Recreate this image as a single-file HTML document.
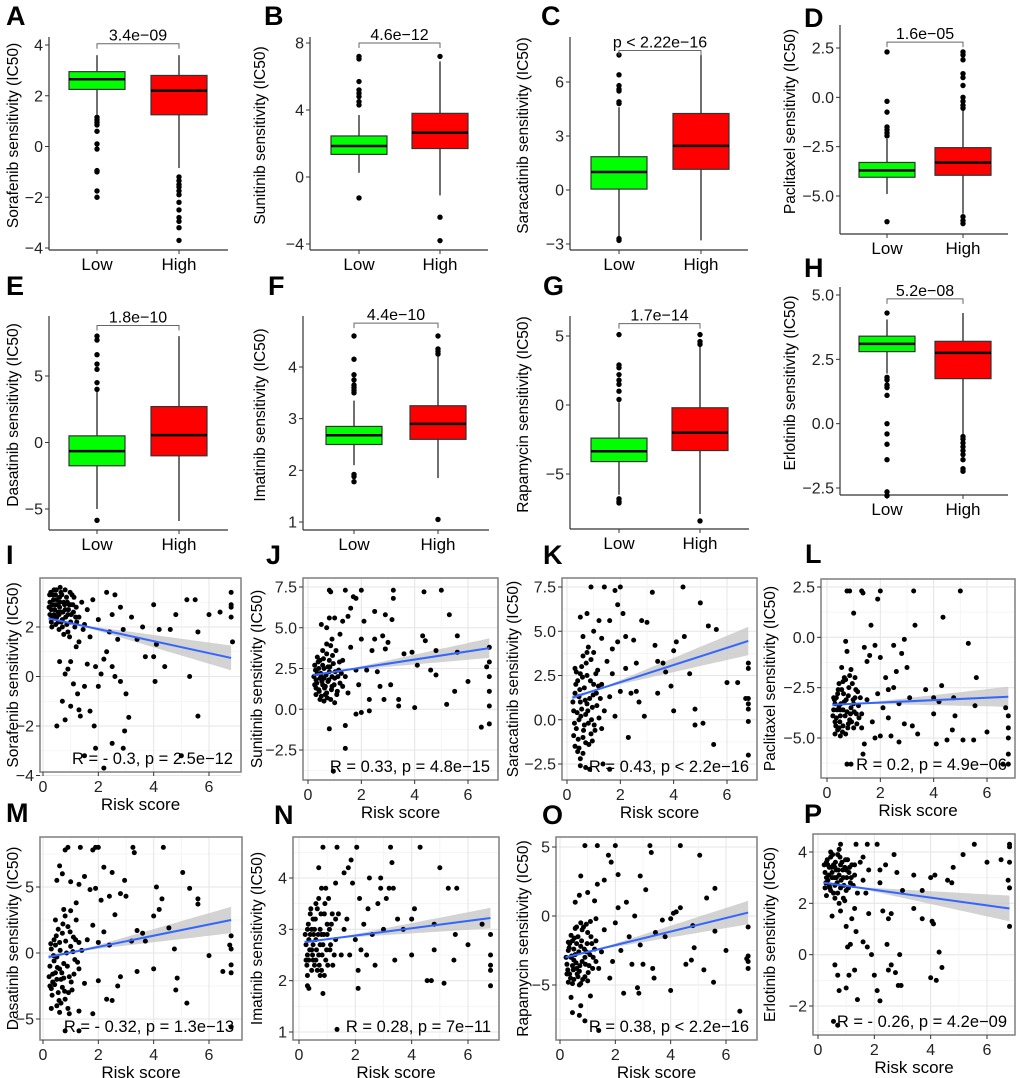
<!DOCTYPE html>
<html><head><meta charset="utf-8"><style>
body{margin:0;background:#fff}
svg{display:block;font-family:"Liberation Sans",Arial,sans-serif}
</style></head><body>
<svg id="fig" width="1020" height="1078" viewBox="0 0 1020 1078" xmlns="http://www.w3.org/2000/svg"></svg>
<script>
// ===== Boxplot data (value units) =====
const boxLetters=["A","B","C","D","E","F","G","H"];
const boxDrugs=["Sorafenib","Sunitinib","Saracatinib","Paclitaxel","Dasatinib","Imatinib","Rapamycin","Erlotinib"];
const boxPvals=["3.4e\u221209","4.6e\u221212","p < 2.22e\u221216","1.6e\u221205","1.8e\u221210","4.4e\u221210","1.7e\u221214","5.2e\u221208"];
const bracketVals=[4.05,8.0,7.75,2.8,8.8,4.85,5.9,4.85];
// [whiskerLow, q1, median, q3, whiskerHigh]
const lowStats=[[1.25,2.25,2.65,2.95,3.6],[0.25,1.35,1.85,2.45,3.7],[-2.6,0.05,1.0,1.85,4.6],[-4.9,-4.05,-3.7,-3.3,-2.1],[-5.0,-1.75,-0.65,0.5,3.9],[2.1,2.5,2.68,2.85,3.35],[-6.5,-4.1,-3.35,-2.4,0.2],[1.95,2.8,3.1,3.4,4.05]];
const highStats=[[-0.85,1.25,2.2,2.8,3.6],[-1.1,1.7,2.65,3.8,6.9],[-2.8,1.15,2.45,4.25,7.5],[-5.9,-3.95,-3.3,-2.55,-0.6],[-5.9,-1.0,0.55,2.7,8.0],[1.85,2.6,2.9,3.25,4.2],[-7.9,-3.3,-2.0,-0.2,4.3],[-0.45,1.75,2.75,3.2,4.3]];
const lowOut=[[1.15,1.05,0.95,0.85,0.6,0.1,-0.1,-0.95,-1.0,-1.75,-2.0],[7.2,7.05,5.7,5.2,5.0,4.8,4.5,4.3,-1.25],[7.5,6.4,5.8,5.6,5.5,4.9,4.8,-2.7,-2.8],[2.3,-0.2,-0.75,-1.5,-1.65,-1.8,-1.95,-6.3],[8.0,7.7,6.6,5.9,5.5,4.5,4.0,-5.85],[4.6,4.15,3.85,3.75,3.65,3.6,3.55,3.5,1.92,1.88,1.78],[5.1,2.9,2.7,2.2,1.8,1.5,1.0,0.4,-6.8,-7.0,-7.1],[4.3,1.8,1.7,1.5,1.4,1.1,0,-0.4,-0.8,-1.4,-2.65,-2.8]];
const highOut=[[-1.2,-1.35,-1.5,-1.6,-1.75,-1.9,-2.2,-2.5,-2.8,-2.95,-3.2,-3.7],[7.2,-2.4,-3.8],[],[2.3,2.15,1.9,1.2,1.0,0.6,0,-0.2,-0.4,-0.55,-6.05,-6.25,-6.4],[],[4.6,4.35,4.3,4.25,1.05],[5.1,4.6,4.4,-8.4],[-0.5,-0.6,-0.75,-0.9,-1.05,-1.2,-1.4,-1.75,-1.85]];
const boxTicks=[["4","2","0","\u22122","\u22124"],["8","4","0","\u22124"],["6","3","0","\u22123"],["2.5","0.0","\u22122.5","\u22125.0"],["5","0","\u22125"],["4","3","2","1"],["5","0","\u22125"],["5.0","2.5","0.0","\u22122.5"]];
const groupLabels=["Low","High"];

// ===== Scatter data =====
const scLetters=["I","J","K","L","M","N","O","P"];
const scDrugs=boxDrugs;
const scStats=["R = - 0.3, p = 2.5e\u221212","R = 0.33, p = 4.8e\u221215","R = 0.43, p < 2.2e\u221216","R = 0.2, p = 4.9e\u221206","R = - 0.32, p = 1.3e\u221213","R = 0.28, p = 7e\u221211","R = 0.38, p < 2.2e\u221216","R = - 0.26, p = 4.2e\u221209"];
const fitStart=[2.35,2.1,1.25,-3.35,-0.3,2.75,-3.0,2.8];
const fitEnd=[0.75,3.75,4.45,-2.95,2.5,3.22,0.25,1.8];
const bandEnd=[0.5,0.6,0.8,0.5,1.0,0.2,0.85,0.5];
const scYTicks=[["2","0","\u22122","\u22124"],["7.5","5.0","2.5","0.0","\u22122.5"],["7.5","5.0","2.5","0.0","\u22122.5"],["2.5","0.0","\u22122.5","\u22125.0"],["5","0","\u22125"],["4","3","2","1"],["5","0","\u22125"],["4","2","0","\u22122"]];
const scXTicks=["0","2","4","6"];
const ptsI=[[0.25,3.0],[0.3,2.7],[0.35,3.3],[0.4,2.5],[0.45,2.9],[0.5,3.1],[0.55,2.6],[0.6,2.8],[0.65,3.4],[0.7,2.3],[0.75,3.0],[0.8,2.7],[0.85,3.2],[0.9,2.5],[0.95,2.9],[1.0,2.2],[1.05,3.3],[1.1,2.6],[1.15,2.0],[1.2,2.8],[0.3,2.2],[0.4,3.5],[0.5,2.4],[0.6,3.2],[0.7,2.0],[0.8,3.5],[0.9,1.8],[1.0,2.9],[0.35,2.9],[0.55,2.2],[0.65,2.6],[0.45,3.3],[0.75,1.7],[0.25,2.5],[1.3,2.4],[1.4,3.0],[1.5,2.1],[1.6,2.7],[1.7,1.6],[1.8,3.1],[1.3,1.4],[1.45,1.9],[1.2,1.2],[1.0,0.6],[0.6,0.6],[0.8,0.1],[0.7,-1.0],[0.5,-2.0],[0.8,-1.75],[1.0,-1.2],[1.25,-0.7],[1.3,-1.35],[1.35,-1.6],[1.5,-0.4],[1.7,-1.4],[1.9,-2.9],[1.85,-2.0],[1.5,-3.2],[2.0,-0.4],[2.1,0.1],[2.2,-3.7],[2.2,0.7],[2.5,0.4],[2.5,-2.7],[2.6,0.0],[2.9,-2.9],[2.95,-2.2],[3.0,-0.7],[3.1,-1.65],[2.3,1.0],[2.4,1.8],[2.5,2.5],[2.6,3.3],[2.8,2.8],[2.3,3.4],[3.4,1.5],[3.6,2.0],[3.7,0.8],[4.0,0.8],[4.05,-0.2],[4.1,1.3],[4.0,2.9],[4.2,1.9],[4.4,0.4],[4.6,1.9],[4.8,2.5],[5.0,-3.2],[5.2,3.1],[5.3,0.0],[5.5,3.1],[5.6,1.8],[5.6,-1.6],[6.0,2.5],[6.4,2.6],[6.8,2.9],[6.8,3.4],[6.8,2.4],[6.85,1.4],[6.8,2.8],[2.9,1.9],[2.0,2.3],[2.7,1.5],[3.2,2.4],[1.9,0.4],[1.6,0.5],[2.8,-0.2],[1.1,-0.3],[0.9,0.3],
[0.22,2.8],[0.28,3.4],[0.33,2.4],[0.38,3.1],[0.42,2.7],[0.48,3.5],[0.52,2.9],[0.58,2.5],[0.62,3.0],[0.68,3.3],[0.72,2.6],[0.78,2.9],[0.82,2.4],[0.88,3.0],[0.92,2.7],[0.98,3.4],[1.02,2.5],[1.08,2.9],[1.12,3.2],[1.18,2.4],[0.32,2.0],[0.46,2.1],[0.58,1.9],[0.66,2.2],[0.86,2.1],[0.96,1.6],[1.22,2.2],[0.24,3.3],[0.62,3.6],[0.44,2.4]];
const ptsJ=[[0.25,2.7],[0.3,1.8],[0.35,2.2],[0.4,1.2],[0.45,3.0],[0.5,2.0],[0.55,1.5],[0.6,2.5],[0.65,0.9],[0.7,3.4],[0.75,1.7],[0.8,2.3],[0.85,0.6],[0.9,1.4],[0.95,2.8],[1.0,1.9],[1.05,3.6],[1.1,1.1],[1.15,2.4],[1.2,1.6],[0.3,1.3],[0.4,2.5],[0.5,0.8],[0.6,1.9],[0.7,1.0],[0.8,3.0],[0.9,2.0],[1.0,0.4],[0.35,3.2],[0.55,2.7],[0.65,1.4],[0.45,1.9],[0.75,2.6],[0.25,1.5],[0.5,5.2],[0.7,5.0],[0.8,5.6],[0.9,4.3],[1.0,5.6],[1.2,4.6],[1.3,5.4],[1.5,5.7],[1.6,6.2],[1.7,6.9],[1.8,6.8],[1.4,7.3],[0.8,7.3],[0.85,7.2],[2.0,7.3],[1.3,3.0],[1.4,2.0],[1.5,1.0],[1.6,3.8],[1.8,2.4],[1.9,1.5],[2.0,4.3],[2.1,5.4],[2.2,2.4],[2.3,0.6],[2.4,3.6],[2.5,6.0],[2.5,4.3],[2.6,2.3],[2.7,1.4],[2.8,4.5],[2.9,5.8],[2.9,3.7],[3.0,4.1],[3.15,5.5],[3.2,7.3],[3.2,6.8],[3.1,1.5],[2.85,0.6],[3.4,0.6],[3.4,0.2],[2.0,-0.2],[1.8,-0.3],[2.3,-0.1],[1.4,-1.0],[0.8,-1.2],[1.4,-2.4],[0.95,-3.8],[3.6,3.4],[3.9,3.5],[4.0,0.1],[4.1,2.7],[4.3,4.5],[4.35,7.2],[4.4,4.2],[4.6,2.4],[4.8,2.1],[4.8,3.6],[5.0,7.3],[5.2,0.3],[5.3,5.8],[5.5,1.1],[5.6,4.5],[5.6,3.5],[6.0,1.7],[6.5,-1.1],[6.8,3.8],[6.8,2.9],[6.8,2.0],[6.8,1.1],[6.8,0.2],[6.8,-0.9],[6.7,2.6],
[0.22,2.0],[0.28,2.4],[0.33,1.6],[0.38,2.9],[0.42,1.1],[0.48,2.2],[0.52,1.7],[0.58,3.1],[0.62,1.3],[0.68,2.1],[0.72,0.7],[0.78,1.8],[0.82,2.6],[0.88,1.2],[0.92,3.3],[0.98,1.5],[1.02,2.3],[1.08,0.9],[1.12,2.0],[1.18,2.9],[0.3,0.9],[0.45,0.6],[0.6,0.5],[0.55,3.6],[0.7,4.0],[0.85,3.9],[1.25,2.2],[1.3,1.4]];
const ptsK=[[0.25,0.5],[0.3,1.5],[0.35,-0.5],[0.4,2.2],[0.45,0.0],[0.5,1.0],[0.55,3.0],[0.6,-1.0],[0.65,1.8],[0.7,0.3],[0.75,2.5],[0.8,-0.2],[0.85,1.2],[0.9,3.4],[0.95,0.7],[1.0,2.0],[1.05,-0.6],[1.1,1.5],[1.15,2.8],[1.2,0.1],[0.3,-1.5],[0.4,-1.8],[0.5,-2.2],[0.6,3.6],[0.7,-1.3],[0.8,4.1],[0.9,-0.8],[1.0,3.8],[0.35,2.7],[0.55,0.6],[0.65,-0.3],[0.45,1.3],[0.75,0.9],[0.25,-0.9],[0.5,5.8],[0.6,4.7],[0.75,6.0],[0.9,7.5],[1.0,5.0],[1.2,5.6],[1.3,4.6],[1.4,7.5],[1.6,5.6],[1.8,7.3],[2.0,7.5],[1.9,6.5],[0.5,-2.6],[0.7,-2.7],[0.85,-2.8],[1.35,-2.5],[1.6,-2.8],[1.3,2.0],[1.4,0.5],[1.5,3.3],[1.6,1.3],[1.7,2.6],[1.8,0.2],[1.9,4.4],[2.0,1.6],[2.1,6.0],[2.2,4.7],[2.3,-1.0],[2.4,1.5],[2.5,4.5],[2.6,3.2],[2.7,1.0],[2.8,5.6],[2.9,0.2],[3.0,5.5],[3.2,7.2],[3.3,4.2],[3.4,1.5],[3.4,3.3],[3.6,3.2],[3.7,2.7],[3.9,1.9],[4.0,0.5],[4.0,3.9],[4.1,4.4],[4.35,7.5],[4.4,4.7],[4.6,2.6],[4.8,0.6],[4.8,-0.3],[5.0,6.6],[5.1,-0.2],[5.3,5.3],[5.5,-1.4],[5.6,5.1],[6.0,2.1],[6.4,2.1],[6.8,3.2],[6.8,2.9],[6.8,1.2],[6.8,0.9],[6.8,0.6],[6.8,-0.1],[6.8,-2.0],[6.7,1.2],[2.6,1.6],[2.2,2.9],[1.7,4.0],
[0.22,1.0],[0.28,-0.2],[0.33,2.0],[0.38,0.4],[0.42,-1.1],[0.48,1.7],[0.52,0.2],[0.58,2.4],[0.62,-0.6],[0.68,1.1],[0.72,3.2],[0.78,0.5],[0.82,-1.4],[0.88,2.2],[0.92,0.0],[0.98,1.4],[1.02,-0.3],[1.08,2.6],[1.12,0.8],[1.18,1.9],[0.3,2.9],[0.45,-1.6],[0.6,-1.9],[0.75,3.8],[0.95,-1.2],[1.25,1.2],[1.3,-0.5],[0.5,2.6]];
const ptsL=[[0.25,-3.6],[0.3,-4.2],[0.35,-3.0],[0.4,-4.6],[0.45,-3.4],[0.5,-3.9],[0.55,-2.6],[0.6,-4.4],[0.65,-3.2],[0.7,-4.8],[0.75,-3.7],[0.8,-2.9],[0.85,-4.1],[0.9,-3.5],[0.95,-2.3],[1.0,-4.5],[1.05,-3.0],[1.1,-3.8],[1.15,-2.7],[1.2,-4.0],[0.3,-3.3],[0.4,-2.8],[0.5,-4.9],[0.6,-3.6],[0.7,-2.1],[0.8,-4.3],[0.9,-1.6],[1.0,-3.3],[0.35,-4.0],[0.55,-1.5],[0.65,-2.0],[0.45,-4.5],[0.75,-0.7],[0.25,-3.0],[0.7,-0.2],[1.0,1.2],[0.75,2.3],[0.85,2.3],[1.3,2.3],[1.35,2.2],[1.9,1.9],[2.0,2.3],[1.65,0.6],[1.4,-0.5],[1.5,-1.2],[1.6,-0.9],[1.8,-0.4],[2.0,-1.0],[2.2,-2.0],[2.3,-2.6],[2.5,-0.4],[2.6,-1.7],[2.8,-0.8],[2.9,-0.1],[3.0,-1.5],[3.25,2.3],[3.3,0.6],[3.1,-3.0],[3.2,-4.4],[3.4,-4.8],[2.7,-5.2],[2.4,-4.9],[2.0,-4.9],[1.8,-5.0],[1.4,-5.3],[1.35,-5.8],[0.9,-6.3],[0.75,-6.3],[1.3,-3.8],[1.5,-3.1],[1.7,-4.2],[1.9,-2.8],[2.1,-3.5],[2.3,-4.0],[2.5,-2.5],[2.7,-3.3],[2.9,-4.3],[3.7,-2.6],[4.0,-3.0],[4.0,-3.8],[4.1,-5.3],[4.2,-3.2],[4.3,-2.4],[4.35,1.0],[4.5,-5.1],[4.7,-4.6],[4.75,-3.0],[4.8,-3.9],[5.0,2.3],[5.1,-5.1],[5.3,-0.3],[5.5,-5.1],[5.55,-3.4],[5.6,-2.0],[6.0,-4.7],[6.7,-3.5],[6.8,-3.9],[6.8,-4.5],[6.8,-5.0],[6.8,-5.8],[6.8,-6.3],[6.6,-6.3],
[0.22,-3.9],[0.28,-3.1],[0.33,-4.4],[0.38,-3.6],[0.42,-2.6],[0.48,-4.2],[0.52,-3.3],[0.58,-4.7],[0.62,-2.8],[0.68,-3.9],[0.72,-3.1],[0.78,-4.5],[0.82,-2.5],[0.88,-3.8],[0.92,-4.2],[0.98,-3.1],[1.02,-3.7],[1.08,-2.6],[1.12,-4.3],[1.18,-3.4],[0.3,-4.8],[0.45,-2.3],[0.6,-2.2],[0.85,-1.9],[1.05,-2.0],[1.25,-3.0],[1.3,-4.5],[0.5,-3.6]];
const ptsM=[[0.25,-1.0],[0.3,0.3],[0.35,-2.2],[0.4,1.0],[0.45,-1.5],[0.5,-0.3],[0.55,-3.0],[0.6,0.8],[0.65,-2.0],[0.7,1.5],[0.75,-0.8],[0.8,-3.5],[0.85,0.0],[0.9,2.0],[0.95,-1.8],[1.0,0.5],[1.05,-2.8],[1.1,1.2],[1.15,-0.5],[1.2,2.5],[0.3,-2.7],[0.4,-0.6],[0.5,-4.0],[0.6,-1.2],[0.7,-2.6],[0.8,2.8],[0.9,-4.2],[1.0,3.2],[0.35,-1.6],[0.55,1.8],[0.65,-3.8],[0.45,0.6],[0.75,-1.9],[0.25,-2.5],[1.3,-1.2],[1.4,0.2],[1.5,-2.3],[1.6,1.0],[1.3,-4.4],[1.2,3.8],[0.5,5.5],[0.6,6.6],[0.7,6.0],[0.8,7.8],[0.9,8.0],[1.0,5.4],[1.35,8.0],[1.3,5.2],[1.5,5.8],[1.8,7.8],[1.9,8.0],[2.0,8.0],[2.2,6.5],[2.5,6.1],[2.95,5.5],[3.25,8.0],[3.3,7.6],[4.35,8.0],[1.7,4.8],[1.9,4.9],[2.1,4.0],[2.4,4.3],[2.6,2.9],[2.8,4.5],[3.0,4.3],[1.8,2.1],[2.0,0.8],[2.2,1.6],[2.3,-3.5],[2.5,-3.6],[2.4,0.6],[2.7,-2.5],[2.8,-1.8],[2.0,-2.1],[1.8,-4.6],[0.8,-5.9],[1.3,-5.9],[3.2,0.9],[3.4,1.7],[3.4,-1.4],[3.6,1.5],[3.7,0.9],[4.0,-1.2],[4.0,2.8],[4.1,5.0],[4.2,3.3],[4.3,4.1],[4.55,1.9],[4.75,0.3],[4.8,-2.8],[4.85,-1.9],[5.05,6.1],[5.2,-3.8],[5.3,4.9],[5.6,4.1],[5.6,3.7],[6.0,-0.2],[6.5,-1.4],[6.75,0.6],[6.8,1.3],[6.8,0.3],[6.8,-0.9],[6.8,-1.5],[6.8,-5.6],
[0.22,-1.8],[0.28,0.7],[0.33,-3.2],[0.38,-0.2],[0.42,-2.4],[0.48,1.3],[0.52,-1.1],[0.58,-3.6],[0.62,0.2],[0.68,-1.5],[0.72,2.2],[0.78,-2.9],[0.82,0.9],[0.88,-1.0],[0.92,-3.0],[0.98,1.6],[1.02,-2.2],[1.08,0.1],[1.12,-1.6],[1.18,1.0],[0.3,-4.2],[0.45,2.5],[0.6,-4.5],[0.75,3.3],[0.95,-4.6],[1.25,-0.7],[1.3,0.8],[0.5,-2.0]];
const ptsN=[[0.25,2.7],[0.3,3.0],[0.35,2.4],[0.4,2.9],[0.45,2.6],[0.5,3.2],[0.55,2.3],[0.6,2.8],[0.65,3.4],[0.7,2.5],[0.75,3.0],[0.8,2.2],[0.85,2.7],[0.9,3.3],[0.95,2.4],[1.0,2.9],[1.05,3.6],[1.1,2.6],[1.15,3.1],[1.2,2.3],[0.3,2.5],[0.4,3.3],[0.5,2.7],[0.6,2.4],[0.7,3.6],[0.8,2.9],[0.9,2.1],[1.0,3.1],[0.35,2.8],[0.55,3.0],[0.65,2.2],[0.45,3.0],[0.75,2.7],[0.25,2.4],[1.3,2.8],[1.4,3.3],[1.5,2.5],[1.6,3.0],[0.3,1.9],[0.35,1.85],[0.85,1.75],[1.35,1.05],[0.8,3.8],[0.85,4.6],[0.7,4.2],[1.35,4.6],[1.3,3.9],[1.6,4.1],[1.75,4.2],[1.85,4.35],[2.05,4.6],[1.7,3.2],[1.8,2.5],[1.9,3.9],[2.0,2.8],[2.1,2.2],[2.15,3.6],[2.2,2.6],[2.1,1.85],[2.3,3.1],[2.4,2.5],[2.45,3.4],[2.5,4.0],[2.6,2.9],[2.7,2.3],[2.8,3.5],[2.9,4.0],[2.9,3.8],[3.0,3.0],[3.1,3.6],[3.2,3.8],[3.25,4.6],[3.3,4.3],[3.35,3.8],[3.4,2.4],[3.5,3.2],[3.7,3.0],[4.0,2.5],[4.0,3.2],[4.1,3.4],[4.3,4.6],[4.55,2.0],[4.7,2.0],[4.8,3.1],[4.8,2.6],[5.0,4.2],[5.15,1.95],[5.3,3.8],[5.5,2.4],[5.55,2.9],[5.6,3.8],[6.0,2.7],[6.5,3.1],[6.8,2.9],[6.8,2.5],[6.8,2.3],[6.8,2.2],[6.8,1.9],
[0.22,2.9],[0.28,2.3],[0.33,3.1],[0.38,2.6],[0.42,3.4],[0.48,2.5],[0.52,2.9],[0.58,3.2],[0.62,2.6],[0.68,2.9],[0.72,2.3],[0.78,3.3],[0.82,2.5],[0.88,2.9],[0.92,3.5],[0.98,2.6],[1.02,2.3],[1.08,3.0],[1.12,2.7],[1.18,3.3],[0.3,2.1],[0.45,2.2],[0.6,3.5],[0.75,2.1],[0.95,3.8],[1.25,2.5],[1.3,3.2],[0.5,2.4]];
const ptsO=[[0.25,-3.5],[0.3,-2.5],[0.35,-4.2],[0.4,-3.0],[0.45,-1.8],[0.5,-4.6],[0.55,-2.8],[0.6,-3.8],[0.65,-1.5],[0.7,-4.0],[0.75,-2.2],[0.8,-3.3],[0.85,-0.8],[0.9,-4.4],[0.95,-2.6],[1.0,-1.2],[1.05,-3.6],[1.1,-0.4],[1.15,-2.0],[1.2,-3.0],[0.3,-4.8],[0.4,-1.4],[0.5,-3.2],[0.6,-2.0],[0.7,-5.0],[0.8,-1.0],[0.9,-3.0],[1.0,-4.7],[0.35,-2.0],[0.55,-0.9],[0.65,-4.4],[0.45,-3.6],[0.75,-0.5],[0.25,-4.2],[1.3,-1.8],[1.4,-3.8],[1.5,-2.6],[1.6,-1.0],[1.3,-0.2],[1.25,1.1],[0.55,1.0],[0.7,1.5],[0.75,2.9],[1.0,1.7],[1.35,2.3],[1.6,2.6],[0.9,5.1],[1.35,5.1],[2.0,5.1],[1.75,4.4],[1.85,3.9],[2.1,3.0],[3.25,5.1],[3.3,4.6],[4.35,5.1],[0.4,-5.9],[0.45,-7.0],[0.75,-6.5],[0.7,-7.2],[0.9,-7.6],[1.1,-5.8],[1.4,-8.3],[1.8,-4.5],[1.9,-3.3],[2.0,-0.5],[2.1,0.6],[2.2,-2.5],[2.3,-5.6],[2.4,1.0],[2.5,-1.5],[2.6,-3.5],[2.7,0.0],[2.8,-5.2],[2.85,-5.6],[2.9,2.9],[2.9,-2.1],[3.0,-3.5],[3.1,1.9],[3.35,-3.8],[3.4,-4.5],[3.45,-1.2],[3.7,-0.3],[3.8,-1.5],[4.0,-5.4],[4.0,-0.2],[4.1,0.2],[4.2,0.3],[4.35,0.6],[4.55,-3.5],[4.75,-3.2],[4.8,-0.7],[4.85,-2.3],[5.05,4.4],[5.2,-3.9],[5.3,1.3],[5.55,-4.8],[5.6,2.0],[5.6,-1.1],[6.0,-2.5],[6.5,-6.9],[6.8,-0.8],[6.8,-2.9],[6.8,-3.3],[6.8,-3.8],[6.75,-3.1],
[0.22,-3.0],[0.28,-3.9],[0.33,-2.3],[0.38,-4.5],[0.42,-2.9],[0.48,-3.9],[0.52,-1.6],[0.58,-3.4],[0.62,-4.2],[0.68,-2.6],[0.72,-3.6],[0.78,-1.8],[0.82,-4.6],[0.88,-2.4],[0.92,-3.5],[0.98,-2.0],[1.02,-4.1],[1.08,-2.8],[1.12,-1.5],[1.18,-3.8],[0.3,-1.9],[0.45,-4.9],[0.6,-0.8],[0.75,-4.9],[0.95,-0.6],[1.25,-2.4],[1.3,-3.3],[0.5,-2.4]];
const ptsP=[[0.25,3.2],[0.3,3.6],[0.35,2.9],[0.4,3.4],[0.45,3.8],[0.5,3.0],[0.55,3.5],[0.6,2.7],[0.65,3.3],[0.7,3.9],[0.75,3.1],[0.8,2.6],[0.85,3.6],[0.9,3.0],[0.95,3.4],[1.0,2.5],[1.05,3.7],[1.1,3.2],[1.15,2.8],[1.2,3.5],[0.3,3.0],[0.4,2.7],[0.5,3.9],[0.6,3.4],[0.7,2.4],[0.8,3.5],[0.9,2.2],[1.0,3.3],[0.35,3.5],[0.55,2.4],[0.65,3.0],[0.45,2.5],[0.75,2.0],[0.25,2.6],[1.3,3.1],[1.4,2.4],[1.5,3.6],[1.6,2.9],[1.3,1.8],[1.2,1.4],[0.8,1.7],[0.5,1.5],[1.0,1.1],[1.35,0.9],[1.05,0.3],[1.15,0.4],[0.6,-0.4],[0.7,-0.8],[0.75,-1.4],[1.0,-1.3],[1.1,-0.8],[1.3,-0.6],[1.4,-1.75],[0.55,-2.6],[0.7,-2.75],[0.8,4.3],[1.35,4.3],[1.75,4.3],[2.1,4.3],[1.6,3.8],[1.8,3.3],[1.7,2.4],[1.8,1.6],[1.6,0.5],[1.75,0.3],[1.9,0.0],[2.0,-0.8],[2.1,-1.4],[2.2,-1.8],[2.2,2.8],[2.3,1.7],[2.4,3.5],[2.45,0.4],[2.5,-0.6],[2.5,1.4],[2.6,-0.4],[2.6,1.6],[2.7,3.9],[2.75,-0.7],[2.8,3.2],[2.85,-1.2],[2.9,0.0],[2.95,-1.2],[3.4,3.1],[3.4,1.8],[3.7,1.4],[3.7,2.5],[4.0,3.0],[4.05,1.3],[4.1,1.2],[4.15,3.1],[4.3,0.1],[4.4,-0.5],[4.0,-0.9],[4.2,-1.0],[4.6,2.9],[4.75,2.8],[4.8,3.4],[5.15,3.9],[5.55,4.3],[6.0,3.6],[6.5,3.7],[6.75,2.9],[6.8,4.3],[6.8,4.2],[6.8,3.6],[6.8,2.6],[6.8,1.1],[3.0,2.5],[2.2,3.3],
[0.22,3.5],[0.28,2.8],[0.33,3.7],[0.38,3.1],[0.42,2.6],[0.48,3.4],[0.52,3.9],[0.58,3.0],[0.62,3.6],[0.68,2.8],[0.72,3.3],[0.78,3.8],[0.82,2.9],[0.88,3.3],[0.92,2.7],[0.98,3.7],[1.02,3.0],[1.08,2.6],[1.12,3.4],[1.18,3.0],[0.3,2.3],[0.45,4.0],[0.6,2.2],[0.75,4.1],[0.95,2.1],[1.25,2.7],[1.3,3.5],[0.5,3.2]];
const scPoints=[ptsI,ptsJ,ptsK,ptsL,ptsM,ptsN,ptsO,ptsP];

// ===== Layout (pixels) =====
const boxLayout=[
 {ax:49,r:228,top:37,bot:250,v1:4,p1:45,v2:-4,p2:248,lx:97,hx:179,labX:18,ltx:6,lty:25,tv:[4,2,0,-2,-4]},
 {ax:310,r:488,top:37,bot:250,v1:8,p1:43,v2:-4,p2:244,lx:359,hx:440,labX:265,ltx:264,lty:25,tv:[8,4,0,-4]},
 {ax:570,r:748,top:37,bot:250,v1:6,p1:82,v2:-3,p2:244,lx:619,hx:701,labX:528,ltx:541,lty:25,tv:[6,3,0,-3]},
 {ax:840,r:1008,top:25,bot:234,v1:2.5,p1:48,v2:-5,p2:196,lx:887,hx:963,labX:795,ltx:804,lty:27,tv:[2.5,0,-2.5,-5]},
 {ax:49,r:228,top:316,bot:530,v1:5,p1:376,v2:-5,p2:509,lx:97,hx:179,labX:18,ltx:6,lty:295,tv:[5,0,-5]},
 {ax:303,r:489,top:316,bot:530,v1:4,p1:367,v2:1,p2:522,lx:354,hx:438,labX:265,ltx:268,lty:295,tv:[4,3,2,1]},
 {ax:570,r:749,top:316,bot:529,v1:5,p1:336,v2:-5,p2:474,lx:619,hx:700,labX:528,ltx:543,lty:295,tv:[5,0,-5]},
 {ax:840,r:1008,top:287,bot:495,v1:5,p1:295,v2:-2.5,p2:488,lx:887,hx:963,labX:795,ltx:804,lty:277,tv:[5,2.5,0,-2.5]}
];
const scLayout=[
 {l:40,r:241,t:578,b:772,x0:43,x6:209,v1:2,p1:627,v2:-2,p2:726,labX:18,ltx:6,lty:564,tv:[2,0,-2,-4]},
 {l:303,r:498,t:578,b:780,x0:308,x6:468,v1:7.5,p1:587,v2:-2.5,p2:750,labX:262,ltx:266,lty:564,tv:[7.5,5,2.5,0,-2.5]},
 {l:562,r:757,t:578,b:780,x0:567,x6:727,v1:7.5,p1:587,v2:-2.5,p2:764,labX:518,ltx:543,lty:564,tv:[7.5,5,2.5,0,-2.5]},
 {l:821,r:1015,t:579,b:778,x0:827,x6:987,v1:2.5,p1:587,v2:-5,p2:738,labX:775,ltx:805,lty:563,tv:[2.5,0,-2.5,-5]},
 {l:40,r:242,t:837,b:1040,x0:43,x6:209,v1:5,p1:887,v2:-5,p2:1019,labX:18,ltx:6,lty:822,tv:[5,0,-5]},
 {l:293,r:499,t:837,b:1040,x0:299,x6:468,v1:4,p1:878,v2:1,p2:1032,labX:262,ltx:274,lty:824,tv:[4,3,2,1]},
 {l:556,r:757,t:837,b:1040,x0:560,x6:726,v1:5,p1:847,v2:-5,p2:985,labX:528,ltx:542,lty:824,tv:[5,0,-5]},
 {l:813,r:1015,t:834,b:1035,x0:818,x6:987,v1:4,p1:852,v2:-2,p2:1006,labX:775,ltx:804,lty:823,tv:[4,2,0,-2]}
];
const FT=16, FTITLE=15.5, FP=16, FG=17;

const NS="http://www.w3.org/2000/svg";
const svg=document.getElementById('fig');
function mk(tag,attrs,parent,text){const e=document.createElementNS(NS,tag);for(const k in attrs)e.setAttribute(k,attrs[k]);if(text!==undefined)e.textContent=text;(parent||svg).appendChild(e);return e;}
function lin(v1,p1,v2,p2){return v=>p1+(v-v1)*(p2-p1)/(v2-v1);}

// ---- Boxplots ----
boxLayout.forEach((L,i)=>{
  const g=mk('g',{});
  
  
  const y=lin(L.v1,L.p1,L.v2,L.p2);
  const lt=mk('text',{x:L.ltx,y:L.lty,'font-size':27,'font-weight':'bold',fill:'#000'},g,boxLetters[i]);
  
  const ya=mk('line',{x1:L.ax,y1:L.top,x2:L.ax,y2:L.bot,stroke:'#333','stroke-width':1.2},g);
  
  const xa=mk('line',{x1:L.ax,y1:L.bot,x2:L.r,y2:L.bot,stroke:'#333','stroke-width':1.2},g);
  
  L.tv.forEach((v,k)=>{
    mk('line',{x1:L.ax-4,y1:y(v),x2:L.ax,y2:y(v),stroke:'#333'},g);
    const t=mk('text',{x:L.ax-6,y:y(v)+5.5,'font-size':FT,'text-anchor':'end',fill:'#222'},g,boxTicks[i][k]);
    
  });
  const cy=(L.top+L.bot)/2-8;
  const yt=mk('text',{x:L.labX,y:cy,'font-size':FTITLE,'text-anchor':'middle',fill:'#000',transform:`rotate(-90 ${L.labX} ${cy})`},g,boxDrugs[i]+' sensitivity (IC50)');
  
  [[L.lx,lowStats[i],lowOut[i],'#00ff00','low'],[L.hx,highStats[i],highOut[i],'#ff0000','high']].forEach(([cx,s,out,col,nm],gi)=>{
    mk('line',{x1:cx,y1:L.bot,x2:cx,y2:L.bot+4,stroke:'#333'},g);
    const gl=mk('text',{x:cx,y:L.bot+20,'font-size':FG,'text-anchor':'middle',fill:'#000'},g,groupLabels[gi]);
    
    const w=mk('line',{x1:cx,y1:y(s[0]),x2:cx,y2:y(s[4]),stroke:'#222','stroke-width':1.3},g);
    
    const b=mk('rect',{x:cx-28,y:y(s[3]),width:56,height:y(s[1])-y(s[3]),fill:col,stroke:'#333','stroke-width':1.2},g);
    
    const m=mk('line',{x1:cx-28,y1:y(s[2]),x2:cx+28,y2:y(s[2]),stroke:'#000','stroke-width':2.5},g);
    
    out.forEach(v=>{const c=mk('circle',{cx:cx,cy:y(v),r:2.7,fill:'#000'},g);
      });
  });
  const by=y(bracketVals[i]);
  const br=mk('path',{d:`M${L.lx},${by+5}V${by}H${L.hx}V${by+5}`,fill:'none',stroke:'#666','stroke-width':1},g);
  
  const pt=mk('text',{x:(L.lx+L.hx)/2,y:by-3,'font-size':FP,'text-anchor':'middle',fill:'#000'},g,boxPvals[i]);
  
});

// ---- Scatter plots ----
scLayout.forEach((L,i)=>{
  const g=mk('g',{});
  
  
  const x=lin(0,L.x0,6,L.x6), y=lin(L.v1,L.p1,L.v2,L.p2);
  const lt=mk('text',{x:L.ltx,y:L.lty,'font-size':27,'font-weight':'bold',fill:'#000'},g,scLetters[i]);
  
  const bg=mk('rect',{x:L.l,y:L.t,width:L.r-L.l,height:L.b-L.t,fill:'#fff'},g);
  
  const step=(L.tv[0]-L.tv[1]);
  for(let k=0;k<L.tv.length;k++){
    const v=L.tv[k];
    const py=y(v+step/2);if(py>L.t&&py<L.b)mk('line',{x1:L.l,y1:py,x2:L.r,y2:py,stroke:'#f3f3f3','stroke-width':0.8},g);
    mk('line',{x1:L.l,y1:y(v),x2:L.r,y2:y(v),stroke:'#e6e6e6','stroke-width':1.1},g);
  }
  {const py=y(L.tv[L.tv.length-1]-step/2);if(py>L.t&&py<L.b)mk('line',{x1:L.l,y1:py,x2:L.r,y2:py,stroke:'#f3f3f3','stroke-width':0.8},g);}
  [1,3,5].forEach(v=>mk('line',{x1:x(v),y1:L.t,x2:x(v),y2:L.b,stroke:'#f3f3f3','stroke-width':0.8},g));
  scXTicks.forEach(tx=>mk('line',{x1:x(+tx),y1:L.t,x2:x(+tx),y2:L.b,stroke:'#e6e6e6','stroke-width':1.1},g));
  const xs=0.2,xe=6.8,xm=1.2;
  const fy=v=>fitStart[i]+(fitEnd[i]-fitStart[i])*(v-xs)/(xe-xs);
  const se=v=>bandEnd[i]*Math.sqrt(0.02+(v-xm)*(v-xm))/Math.sqrt(0.02+(xe-xm)*(xe-xm));
  let up=[],dn=[];
  for(let v=xs;v<=xe+1e-9;v+=0.2){up.push(`${x(v).toFixed(1)},${y(fy(v)+se(v)).toFixed(1)}`);dn.unshift(`${x(v).toFixed(1)},${y(fy(v)-se(v)).toFixed(1)}`);}
  const band=mk('polygon',{points:up.concat(dn).join(' '),fill:'#c4c4c4','fill-opacity':0.75},g);
  
  scPoints[i].forEach(p=>{const c=mk('circle',{cx:x(p[0]),cy:y(p[1]),r:2.5,fill:'#000'},g);
    });
  const fl=mk('line',{x1:x(xs),y1:y(fitStart[i]),x2:x(xe),y2:y(fitEnd[i]),stroke:'#3366ff','stroke-width':2},g);
  
  const fr=mk('rect',{x:L.l,y:L.t,width:L.r-L.l,height:L.b-L.t,fill:'none',stroke:'#7f7f7f','stroke-width':1.5},g);
  
  L.tv.forEach((v,k)=>{
    mk('line',{x1:L.l-4,y1:y(v),x2:L.l,y2:y(v),stroke:'#333'},g);
    const t=mk('text',{x:L.l-6,y:y(v)+5.5,'font-size':FT,'text-anchor':'end',fill:'#222'},g,scYTicks[i][k]);
    
  });
  scXTicks.forEach(tx=>{
    mk('line',{x1:x(+tx),y1:L.b,x2:x(+tx),y2:L.b+4,stroke:'#333'},g);
    const t=mk('text',{x:x(+tx),y:L.b+20,'font-size':FT,'text-anchor':'middle',fill:'#222'},g,tx);
    
  });
  const xt=mk('text',{x:(L.l+L.r)/2,y:L.b+38,'font-size':17,'text-anchor':'middle',fill:'#000'},g,'Risk score');
  
  const cy=(L.t+L.b)/2;
  const yt=mk('text',{x:L.labX,y:cy,'font-size':FTITLE,'text-anchor':'middle',fill:'#000',transform:`rotate(-90 ${L.labX} ${cy})`},g,scDrugs[i]+' sensitivity (IC50)');
  
  const st=mk('text',{x:L.r-8,y:L.b-8,'font-size':16.5,'text-anchor':'end',fill:'#000'},g,scStats[i]);
  
});
</script>
</body></html>
